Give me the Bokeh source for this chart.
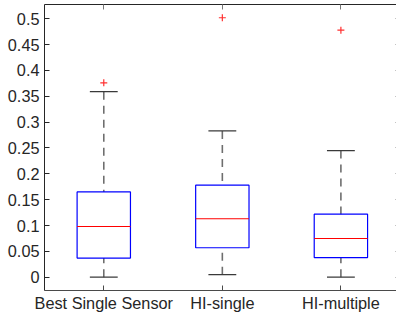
from bokeh.plotting import figure
from bokeh.models import ColumnDataSource, LinearAxis, FixedTicker, Range1d
from bokeh.embed import file_html
from bokeh.resources import INLINE

categories = ["Best Single Sensor", "HI-single", "HI-multiple"]
positions = [1, 2, 3]
q1 = [0.037, 0.057, 0.038]
median = [0.098, 0.113, 0.075]
q3 = [0.165, 0.178, 0.122]
whisker_low = [0.0, 0.005, 0.0]
whisker_high = [0.359, 0.283, 0.245]
outliers_x = [1, 2, 3]
outliers_y = [0.376, 0.502, 0.478]
y_ticks = [0, 0.05, 0.1, 0.15, 0.2, 0.25, 0.3, 0.35, 0.4, 0.45, 0.5]
y_tick_labels = ["0", "0.05", "0.1", "0.15", "0.2", "0.25", "0.3", "0.35", "0.4", "0.45", "0.5"]

box_w = 0.45
cap_w = 0.235

src = ColumnDataSource(dict(
    x=positions,
    left=[p - box_w / 2 for p in positions],
    right=[p + box_w / 2 for p in positions],
    cl=[p - cap_w / 2 for p in positions],
    cr=[p + cap_w / 2 for p in positions],
    q1=q1, med=median, q3=q3, lo=whisker_low, hi=whisker_high,
))

FONT = "Liberation Sans"
TXT = "#262626"
AX = "#262626"

p = figure(width=396, height=319, output_backend="svg", toolbar_location=None,
           x_range=Range1d(0.5, 3.469), y_range=Range1d(-0.0257, 0.5276),
           min_border_left=44, min_border_right=0, min_border_top=4, min_border_bottom=29,
           x_axis_location=None, y_axis_location=None)
p.grid.visible = False
p.outline_line_color = None
p.background_fill_color = "white"
p.border_fill_color = "white"

def style_axis(ax, labels=True):
    ax.axis_line_color = AX
    ax.major_tick_line_color = AX
    ax.major_tick_in = 5
    ax.major_tick_out = 0
    ax.minor_tick_line_color = None
    if labels:
        ax.major_label_text_font = FONT
        ax.major_label_text_font_size = "16.3px"
        ax.major_label_text_color = TXT
    else:
        ax.major_label_text_font_size = "0px"
        ax.major_label_text_color = None

left = LinearAxis(ticker=FixedTicker(ticks=y_ticks))
left.major_label_overrides = {t: l for t, l in zip(y_ticks, y_tick_labels)}
style_axis(left)
left.major_label_standoff = 5
p.add_layout(left, "left")

right = LinearAxis(ticker=FixedTicker(ticks=y_ticks))
style_axis(right, labels=False)
right.axis_line_color = None
right.major_tick_in = 1
right.major_tick_line_color = "#888888"
p.add_layout(right, "right")

bottom = LinearAxis(ticker=FixedTicker(ticks=positions))
bottom.major_label_overrides = {pp: c for pp, c in zip(positions, categories)}
style_axis(bottom)
bottom.axis_line_color = "#4a4a4a"
bottom.major_tick_line_color = "#4a4a4a"
bottom.major_label_standoff = 3
p.add_layout(bottom, "below")

top = LinearAxis(ticker=FixedTicker(ticks=positions))
style_axis(top, labels=False)
top.major_tick_line_color = "#777777"
p.add_layout(top, "above")

# whiskers (dashed)
p.segment(x0="x", y0="hi", x1="x", y1="q3", source=src, line_color="#6e6e6e",
          line_width=1.6, line_dash="8 6")
p.segment(x0="x", y0="lo", x1="x", y1="q1", source=src, line_color="#6e6e6e",
          line_width=1.6, line_dash="8 6")
# caps
p.segment(x0="cl", y0="hi", x1="cr", y1="hi", source=src, line_color="#3a3a3a", line_width=1.3)
p.segment(x0="cl", y0="lo", x1="cr", y1="lo", source=src, line_color="#3a3a3a", line_width=1.3)
# boxes
p.quad(left="left", right="right", bottom="q1", top="q3", source=src,
       fill_color=None, line_color="#0000ff", line_width=1.2)
# medians
p.segment(x0="left", y0="med", x1="right", y1="med", source=src, line_color="#ff0000", line_width=1.1)
# outliers
p.scatter(x=outliers_x, y=outliers_y, marker="cross", size=7, line_color="#ff3030", line_width=1.2)

open("out.html", "w").write(file_html(p, INLINE))
